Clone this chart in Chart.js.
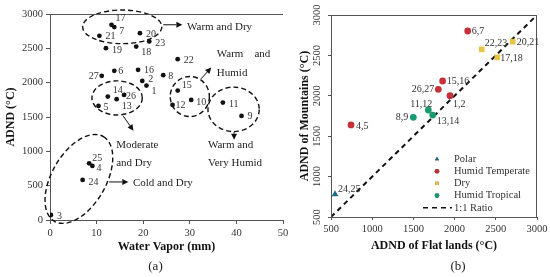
<!DOCTYPE html>
<html>
<head>
<meta charset="utf-8">
<script src="https://cdn.jsdelivr.net/npm/chart.js@4.4.1/dist/chart.umd.min.js"></script>
<style>
  html, body { margin: 0; padding: 0; background: #fff; width: 550px; height: 277px; overflow: hidden; }
  #wrapA { position: absolute; left: 0; top: 0; width: 288px; height: 277px; }
  #wrapB { position: absolute; left: 288px; top: 0; width: 262px; height: 277px; }
</style>
</head>
<body>
<div id="wrapA"><canvas id="chartA"></canvas></div>
<div id="wrapB"><canvas id="chartB"></canvas></div>
<script>
// ---- panel (a): ADND vs water vapour, one point per station ----
const stationIds = [1, 2, 3, 4, 5, 6, 7, 8, 9, 10, 11, 12, 13, 14, 15, 16, 17, 18, 19, 20, 21, 22, 23, 24, 25, 26, 27];
const waterVapor = [20.7, 19.8, 0.2, 9.1, 10.4, 13.8, 13.8, 24.3, 41.1, 30.3, 37.1, 26.3, 14.3, 12.4, 27.4, 18.9, 13.2, 18.5, 12.0, 19.3, 10.6, 27.4, 21.3, 7.0, 8.4, 15.9, 11.1];
const adndValues = [1958, 2026, 73, 787, 1662, 2172, 2809, 2109, 1516, 1749, 1710, 1676, 1759, 1798, 1885, 2187, 2843, 2526, 2503, 2721, 2682, 2342, 2600, 583, 826, 1822, 2099];
const vaporTicks = [0, 10, 20, 30, 40, 50];
const adndTicks = [0, 500, 1000, 1500, 2000, 2500, 3000];

// ---- panel (b): mountains vs flat lands, grouped by climate ----
const climateNames = ['Polar', 'Humid Temperate', 'Dry', 'Humid Tropical'];
const polarPairs = ['24,25'];
const polarFlat = [549];
const polarMountain = [781];
const temperatePairs = ['6,7', '15,16', '26,27', '1,2', '4,5'];
const temperateFlat = [2159, 1855, 1802, 1944, 743];
const temperateMountain = [2802, 2183, 2080, 2001, 1639];
const dryPairs = ['22,23', '20,21', '17,18'];
const dryFlat = [2329, 2705, 2518];
const dryMountain = [2575, 2670, 2476];
const tropicalPairs = ['11,12', '13,14', '8,9'];
const tropicalFlat = [1681, 1734, 1499];
const tropicalMountain = [1824, 1762, 1734];
const ratioEnds = [500, 3000];
const flatTicks = [500, 1000, 1500, 2000, 2500, 3000];

const serif = "'Liberation Serif', 'DejaVu Serif', serif";
const axisGray = '#555';
const textGray = '#333';

// label offsets (px) next to each point
const idLabelOffset = [
  [5, 6], [6, -2], [6, 1], [4, 2], [5, 1], [4, 1], [5, 4], [5, 1], [6, 0], [5, 2],
  [6, 2], [3, 0], [5, 7], [5, -6], [4, -5], [6, 1], [4, -6], [5, 6], [6, 2], [6, 1],
  [6, 1], [6, 1], [6, 2], [6, 2], [3, -5], [2, 1], [-3, 1, 'right']
];
const pairLabelOffset = {
  '24,25': [3, -5], '6,7': [4, 0], '15,16': [4, 0], '26,27': [-4, 0, 'right'], '1,2': [3, 9],
  '4,5': [5, 1], '22,23': [3, -6], '20,21': [4, 1], '17,18': [3, 1],
  '11,12': [4, -6, 'right'], '13,14': [4, 6], '8,9': [-5, 0, 'right']
};

// dashed zones, arrows and notes of panel (a), in data units
const zoneEllipses = [
  { c: [15.5, 2813], rx: 8.5, ry: 245, rot: 0 },
  { c: [14.4, 1778], rx: 5.4, ry: 248, rot: 0 },
  { c: [30.0, 1798], rx: 4.2, ry: 292, rot: 0 },
  { c: [39.4, 1611], rx: 5.5, ry: 324, rot: 0 },
  { c: [6.2, 598], rx: 10.5, ry: 394, rot: -60 }
];
const zoneArrows = [
  { from: [24.3, 2843], to: [28.4, 2843] },
  { from: [15.7, 1516], to: [17.9, 1300] },
  { from: [32.4, 2055], to: [34.6, 2220] },
  { from: [39.5, 1283], to: [39.5, 1170] },
  { from: [12.7, 554], to: [16.8, 554] }
];
const zoneNotes = [
  { t: 'Warm and Dry', at: [29.4, 2813] },
  { t: 'Moderate', at: [14.2, 1093] },
  { t: 'and Dry', at: [14.2, 831] },
  { t: 'Warm    and', at: [35.8, 2420] },
  { t: 'Humid', at: [35.8, 2143] },
  { t: 'Warm and', at: [33.9, 1093] },
  { t: 'Very Humid', at: [33.9, 831] },
  { t: 'Cold and Dry', at: [17.8, 539] }
];

Chart.defaults.font.family = serif;
Chart.defaults.color = textGray;

const drawArrow = (ctx, x1, y1, x2, y2) => {
  const a = Math.atan2(y2 - y1, x2 - x1), h = 6, w = 3;
  ctx.beginPath();
  ctx.moveTo(x1, y1);
  ctx.lineTo(x2 - h * Math.cos(a), y2 - h * Math.sin(a));
  ctx.stroke();
  ctx.beginPath();
  ctx.moveTo(x2, y2);
  ctx.lineTo(x2 - h * Math.cos(a) + w * Math.sin(a), y2 - h * Math.sin(a) - w * Math.cos(a));
  ctx.lineTo(x2 - h * Math.cos(a) - w * Math.sin(a), y2 - h * Math.sin(a) + w * Math.cos(a));
  ctx.closePath();
  ctx.fill();
};

const pointLabels = (getText, getOffset, size) => ({
  id: 'pointLabels',
  afterDatasetsDraw(chart) {
    const ctx = chart.ctx;
    ctx.save();
    ctx.font = size + 'px ' + serif;
    ctx.fillStyle = textGray;
    ctx.textBaseline = 'middle';
    chart.data.datasets.forEach((ds, d) => {
      if (!ds.pairs && d > 0) return;
      chart.getDatasetMeta(d).data.forEach((pt, i) => {
        const txt = getText(ds, i);
        if (txt === undefined) return;
        const off = getOffset(txt, i);
        ctx.textAlign = off[2] || 'left';
        ctx.fillText(txt, pt.x + off[0], pt.y + off[1]);
      });
    });
    ctx.restore();
  }
});

const zonesPlugin = {
  id: 'zones',
  afterDatasetsDraw(chart) {
    const { ctx, chartArea, scales: { x, y } } = chart;
    ctx.save();
    ctx.strokeStyle = '#111';
    ctx.fillStyle = '#111';
    ctx.lineWidth = 1.4;
    ctx.setLineDash([5, 3]);
    zoneEllipses.forEach(e => {
      const cx = x.getPixelForValue(e.c[0]), cy = y.getPixelForValue(e.c[1]);
      const rx = x.getPixelForValue(e.c[0] + e.rx) - cx;
      const ry = cy - y.getPixelForValue(e.c[1] + e.ry);
      ctx.beginPath();
      ctx.ellipse(cx, cy, rx, ry, e.rot * Math.PI / 180, 0, Math.PI * 2);
      ctx.stroke();
    });
    ctx.setLineDash([]);
    ctx.lineWidth = 1;
    zoneArrows.forEach(a => drawArrow(ctx,
      x.getPixelForValue(a.from[0]), y.getPixelForValue(a.from[1]),
      x.getPixelForValue(a.to[0]), y.getPixelForValue(a.to[1])));
    ctx.font = '11px ' + serif;
    ctx.fillStyle = '#222';
    ctx.textBaseline = 'middle';
    ctx.textAlign = 'left';
    zoneNotes.forEach(n => ctx.fillText(n.t, x.getPixelForValue(n.at[0]), y.getPixelForValue(n.at[1])));
    // top frame line
    ctx.strokeStyle = axisGray;
    ctx.beginPath();
    ctx.moveTo(chartArea.left, chartArea.top + 0.5);
    ctx.lineTo(chartArea.right, chartArea.top + 0.5);
    ctx.stroke();
    // panel tag
    ctx.font = '13px ' + serif;
    ctx.fillStyle = '#222';
    ctx.textAlign = 'center';
    ctx.fillText('(a)', (chartArea.left + chartArea.right) / 2 - 11, 267);
    ctx.restore();
  }
};

const plainTicks = (ticksArr, extra) => Object.assign({
  stepSize: ticksArr[1] - ticksArr[0],
  color: textGray,
  font: { size: 10.5 },
  callback: v => String(v)
}, extra);

const tickAxis = (ticksArr, extra) => Object.assign({
  type: 'linear',
  min: ticksArr[0],
  max: ticksArr[ticksArr.length - 1],
  ticks: plainTicks(ticksArr),
  grid: { drawOnChartArea: false, drawTicks: true, tickLength: 4, color: axisGray },
  border: { display: true, color: axisGray, width: 1 }
}, extra);

// ---------- chart (a) ----------
new Chart(document.getElementById('chartA'), {
  type: 'scatter',
  data: {
    datasets: [{
      data: stationIds.map((id, i) => ({ x: waterVapor[i], y: adndValues[i] })),
      backgroundColor: '#111',
      borderWidth: 0,
      pointRadius: 2.4
    }]
  },
  options: {
    responsive: true,
    maintainAspectRatio: false,
    animation: false,
    layout: { padding: { left: 0, top: 14, right: 5, bottom: 0 } },
    plugins: { legend: { display: false }, tooltip: { enabled: false } },
    scales: {
      x: tickAxis(vaporTicks, {
        title: { display: true, text: 'Water Vapor (mm)', color: '#111', font: { size: 12, weight: 'bold' }, padding: { top: 0, bottom: 23 } },
        afterFit: s => { s.height = 57; s.paddingLeft = 0; s.paddingRight = 0; }
      }),
      y: tickAxis(adndTicks, {
        title: { display: true, text: 'ADND (°C)', color: '#111', font: { size: 12, weight: 'bold' }, padding: { top: 4, bottom: 0 } },
        afterFit: s => { s.width = 50; s.paddingTop = 0; s.paddingBottom = 0; }
      })
    }
  },
  plugins: [zonesPlugin, pointLabels((ds, i) => String(stationIds[i]), (t, i) => idLabelOffset[i], 10)]
});

// ---------- chart (b) ----------
const climateSet = (name, pairs, flat, mountain, color, style, radius) => ({
  label: name,
  pairs: pairs,
  data: pairs.map((p, i) => ({ x: flat[i], y: mountain[i] })),
  backgroundColor: color,
  borderColor: color,
  borderWidth: 0,
  pointStyle: style,
  pointRadius: radius
});

const boxAndLegend = {
  id: 'boxAndLegend',
  afterDatasetsDraw(chart) {
    const { ctx, chartArea: a } = chart;
    ctx.save();
    ctx.strokeStyle = axisGray;
    ctx.lineWidth = 1;
    ctx.strokeRect(a.left + 0.5, a.top + 0.5, a.right - a.left - 1, a.bottom - a.top);
    // legend, drawn from the datasets
    const mx = a.left + 106, tx = a.left + 123;
    ctx.font = '10.5px ' + serif;
    ctx.textBaseline = 'middle';
    ctx.textAlign = 'left';
    chart.data.datasets.forEach((ds, d) => {
      const ly = a.top + 144 + d * 12.2;
      if (ds.type === 'line') {
        ctx.strokeStyle = '#111';
        ctx.lineWidth = 1.6;
        ctx.setLineDash(ds.borderDash);
        ctx.beginPath();
        ctx.moveTo(a.left + 92, ly);
        ctx.lineTo(a.left + 121, ly);
        ctx.stroke();
        ctx.setLineDash([]);
      } else {
        Chart.helpers.drawPoint(ctx, { pointStyle: ds.pointStyle, radius: 2.3, borderWidth: 0, rotation: 0 }, mx, ly);
        ctx.fillStyle = ds.backgroundColor;
        ctx.fill();
      }
      ctx.fillStyle = textGray;
      ctx.fillText(ds.label, tx, ly);
    });
    ctx.font = '13px ' + serif;
    ctx.fillStyle = '#222';
    ctx.textAlign = 'center';
    ctx.fillText('(b)', (a.left + a.right) / 2 + 24, 267);
    ctx.restore();
  }
};

new Chart(document.getElementById('chartB'), {
  type: 'scatter',
  data: {
    datasets: [
      climateSet(climateNames[0], polarPairs, polarFlat, polarMountain, '#1f6d86', 'triangle', 4),
      climateSet(climateNames[1], temperatePairs, temperateFlat, temperateMountain, '#c53039', 'circle', 3.4),
      climateSet(climateNames[2], dryPairs, dryFlat, dryMountain, '#e8c446', 'rect', 4),
      climateSet(climateNames[3], tropicalPairs, tropicalFlat, tropicalMountain, '#1c9a72', 'circle', 3.4),
      {
        type: 'line',
        label: '1:1 Ratio',
        data: ratioEnds.map(v => ({ x: v, y: v })),
        borderColor: '#111',
        borderWidth: 2,
        borderDash: [5, 4],
        pointRadius: 0,
        fill: false
      }
    ]
  },
  options: {
    responsive: true,
    maintainAspectRatio: false,
    animation: false,
    layout: { padding: { left: 0, top: 15, right: 13, bottom: 0 } },
    plugins: { legend: { display: false }, tooltip: { enabled: false } },
    scales: {
      x: tickAxis(flatTicks, {
        title: { display: true, text: 'ADND of Flat lands (°C)', color: '#111', font: { size: 12, weight: 'bold' }, padding: { top: 0, bottom: 24 } },
        grid: { drawOnChartArea: false, drawTicks: true, tickLength: 3, color: axisGray },
        afterFit: s => { s.height = 60; s.paddingLeft = 0; s.paddingRight = 0; }
      }),
      y: tickAxis(flatTicks, {
        ticks: plainTicks(flatTicks, { minRotation: 90, maxRotation: 90, crossAlign: 'center', padding: 0 }),
        grid: { drawOnChartArea: false, drawTicks: true, tickLength: 3, color: axisGray },
        title: { display: true, text: 'ADND of Mountains (°C)', color: '#111', font: { size: 12, weight: 'bold' }, padding: { top: 10, bottom: 0 } },
        afterFit: s => { s.width = 43; s.paddingTop = 0; s.paddingBottom = 0; }
      })
    }
  },
  plugins: [boxAndLegend, pointLabels((ds, i) => ds.pairs ? ds.pairs[i] : undefined, t => pairLabelOffset[t], 10)]
});
</script>
</body>
</html>
